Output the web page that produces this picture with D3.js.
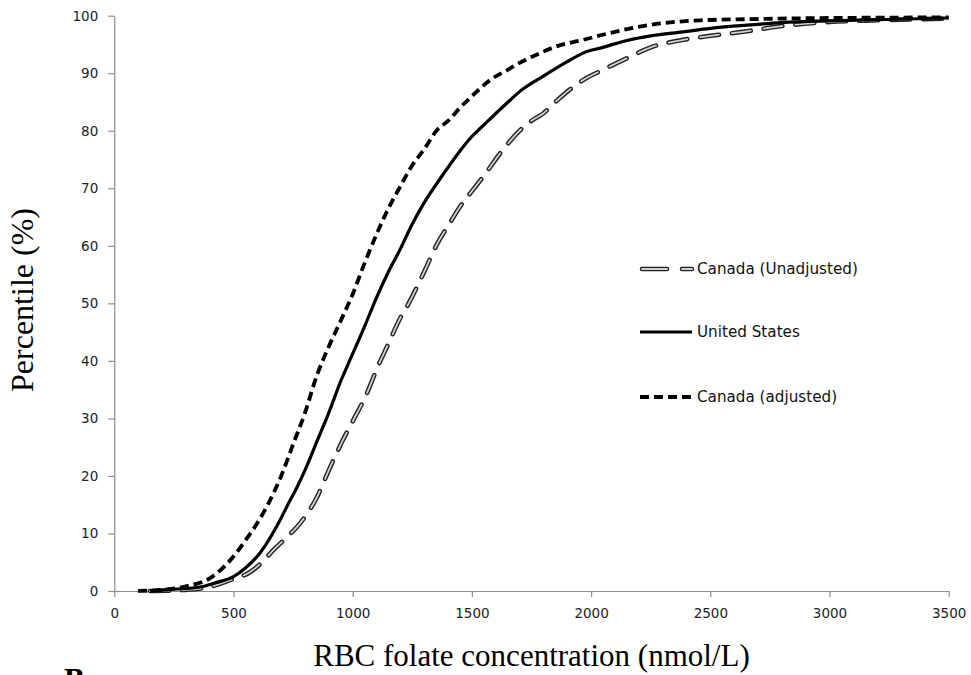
<!DOCTYPE html>
<html><head><meta charset="utf-8">
<script src="https://cdn.jsdelivr.net/npm/d3@7"></script>
<style>body{margin:0;background:#fff}svg{display:block}</style>
</head><body>
<svg id="chart" width="971" height="675"></svg>
<script>
// Data (RBC folate concentration nmol/L, percentile %)
const xTicks = [0, 500, 1000, 1500, 2000, 2500, 3000, 3500];
const yTicks = [0, 10, 20, 30, 40, 50, 60, 70, 80, 90, 100];
const seriesNames = ["Canada (Unadjusted)", "United States", "Canada (adjusted)"];

const canadaUnadjX = [150,300,400,486,570,620,667,720,780,850,900,950,1000,1060,1100,1150,1200,1227,1300,1350,1408,1450,1500,1547,1630,1700,1756,1799,1850,1900,1966,2050,2150,2250,2386,2500,2637,2800,3000,3200,3500];
const canadaUnadjY = [0,0.2,0.7,1.9,3.3,5,7.1,9.2,11.8,16.3,21,25.5,29.5,34.4,38.5,43,47.5,49.4,55.5,60,64,66.8,69.5,72,76.7,80,81.9,83,85,86.8,88.8,90.6,92.6,94.5,95.8,96.5,97.2,98.2,98.9,99.2,99.5];

const usX = [150,250,360,430,500,550,611,650,695,738,766,800,850,900,950,989,1050,1100,1150,1198,1250,1300,1379,1450,1500,1550,1600,1660,1700,1800,1900,1966,2050,2150,2250,2386,2500,2666,2800,3000,3200,3500];
const usY = [0,0.3,0.7,1.5,2.5,4,6.6,9,12.3,15.8,18,21,26,31,36.5,40.2,46,51,55.5,59.3,63.8,67.5,72.4,76.5,79,81,83,85.3,86.8,89.5,92,93.5,94.5,95.7,96.5,97.2,97.8,98.4,98.8,99.1,99.3,99.6];

const canadaAdjX = [100,200,300,400,450,500,550,600,650,700,750,800,850,900,950,1000,1050,1100,1150,1198,1250,1300,1353,1400,1450,1500,1576,1650,1700,1786,1850,1966,2100,2247,2457,2666,3000,3500];
const canadaAdjY = [0,0.2,0.8,2.2,3.8,6,8.8,11.8,15.5,20,25.5,31,37.5,42.5,47,51.6,57,62,66.5,70.2,74,76.8,80.1,81.7,84,86,88.8,90.6,91.8,93.5,94.6,95.8,97.2,98.4,99.2,99.4,99.6,99.7];

const svg = d3.select("#chart");
svg.append("rect").attr("width",971).attr("height",675).attr("fill","#fff");

const x = d3.scaleLinear().domain([0,3500]).range([114.3, 948.7]);
const y = d3.scaleLinear().domain([0,100]).range([591, 15.7]);

const axisColor = "#8c8c8c";
const tickFont = "'DejaVu Sans', Verdana, sans-serif";

// Y axis
const gy = svg.append("g").attr("transform", `translate(${x(0)},0)`)
  .call(d3.axisLeft(y).tickValues(yTicks).tickFormat(d3.format("d")).tickSize(6).tickSizeOuter(0).tickPadding(10));
gy.select(".domain").attr("stroke", axisColor).attr("stroke-width",1.2);
gy.selectAll(".tick line").attr("stroke", axisColor).attr("stroke-width",1.2);
gy.selectAll(".tick text").attr("font-family", tickFont).attr("font-size","13.5px").attr("fill","#222");

// X axis
const gx = svg.append("g").attr("transform", `translate(0,${y(0)})`)
  .call(d3.axisBottom(x).tickValues(xTicks).tickFormat(d3.format("d")).tickSize(6).tickSizeOuter(0).tickPadding(11));
gx.select(".domain").attr("stroke", axisColor).attr("stroke-width",1.2);
gx.selectAll(".tick line").attr("stroke", axisColor).attr("stroke-width",1.2);
gx.selectAll(".tick text").attr("font-family", tickFont).attr("font-size","13.5px").attr("fill","#222");

// Lines
const line = d3.line().x(d => x(d[0])).y(d => y(d[1])).curve(d3.curveMonotoneX);
const zip = (a,b) => a.map((v,i) => [v,b[i]]);

const unadj = zip(canadaUnadjX, canadaUnadjY);
const us = zip(usX, usY);
const adj = zip(canadaAdjX, canadaAdjY);

// Canada unadjusted: outlined dashes
svg.append("path").attr("d", line(unadj)).attr("fill","none")
  .attr("stroke","#222").attr("stroke-width",4.6).attr("stroke-linecap","round")
  .attr("stroke-dasharray","19,13");
svg.append("path").attr("d", line(unadj)).attr("fill","none")
  .attr("stroke","#d0d0d0").attr("stroke-width",1.8).attr("stroke-linecap","round")
  .attr("stroke-dasharray","19,13");

// United States solid
svg.append("path").attr("d", line(us)).attr("fill","none")
  .attr("stroke","#000").attr("stroke-width",3.2).attr("stroke-linejoin","round");

// Canada adjusted dashed
svg.append("path").attr("d", line(adj)).attr("fill","none")
  .attr("stroke","#000").attr("stroke-width",3.8).attr("stroke-dasharray","9,5");

// Legend
const legFont = "'DejaVu Sans', Verdana, sans-serif";
const leg = [
  {name: seriesNames[0], y: 269},
  {name: seriesNames[1], y: 332},
  {name: seriesNames[2], y: 397}
];
svg.append("line").attr("x1",642).attr("x2",692).attr("y1",leg[0].y).attr("y2",leg[0].y)
  .attr("stroke","#222").attr("stroke-width",4.6).attr("stroke-linecap","round").attr("stroke-dasharray","25,15");
svg.append("line").attr("x1",642).attr("x2",692).attr("y1",leg[0].y).attr("y2",leg[0].y)
  .attr("stroke","#d0d0d0").attr("stroke-width",1.8).attr("stroke-linecap","round").attr("stroke-dasharray","25,15");
svg.append("line").attr("x1",640).attr("x2",692).attr("y1",leg[1].y).attr("y2",leg[1].y)
  .attr("stroke","#000").attr("stroke-width",3.2);
svg.append("line").attr("x1",640).attr("x2",692).attr("y1",leg[2].y).attr("y2",leg[2].y)
  .attr("stroke","#000").attr("stroke-width",3.8).attr("stroke-dasharray","9,5");
leg.forEach(d => {
  svg.append("text").attr("x",697).attr("y",d.y).attr("dy","0.35em")
    .attr("font-family",legFont).attr("font-size","15.2px").attr("fill","#111").text(d.name);
});

// Axis titles
svg.append("text").attr("transform","translate(33,300) rotate(-90)")
  .attr("text-anchor","middle").attr("font-family","'Liberation Serif', 'Times New Roman', serif")
  .attr("font-size","32px").attr("fill","#000").text("Percentile (%)");
svg.append("text").attr("x",531.5).attr("y",665.5)
  .attr("text-anchor","middle").attr("font-family","'Liberation Serif', 'Times New Roman', serif")
  .attr("font-size","31px").attr("fill","#000").text("RBC folate concentration (nmol/L)");
svg.append("text").attr("x",64).attr("y",690)
  .attr("font-family","'Liberation Serif', 'Times New Roman', serif").attr("font-weight","bold")
  .attr("font-size","31px").attr("fill","#000").text("B");
</script>
</body></html>
